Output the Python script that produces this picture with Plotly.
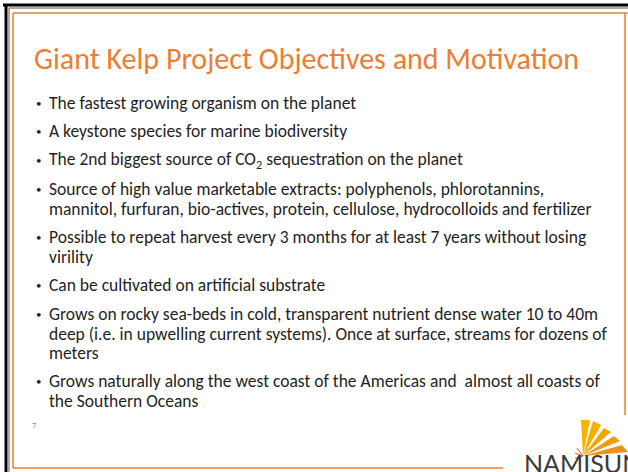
import plotly.graph_objects as go

W, H = 628, 472

title_text = "Giant Kelp Project Objectives and Motivation"

bullets = [
    ["The fastest growing organism on the planet"],
    ["A keystone species for marine biodiversity"],
    ["The 2nd biggest source of CO<sub>2</sub> sequestration on the planet"],
    ["Source of high value marketable extracts: polyphenols, phlorotannins,",
     "mannitol, furfuran, bio-actives, protein, cellulose, hydrocolloids and fertilizer"],
    ["Possible to repeat harvest every 3 months for at least 7 years without losing",
     "virility"],
    ["Can be cultivated on artificial substrate"],
    ["Grows on rocky sea-beds in cold, transparent nutrient dense water 10 to 40m",
     "deep (i.e. in upwelling current systems). Once at surface, streams for dozens of",
     "meters"],
    ["Grows naturally along the west coast of the Americas and  almost all coasts of",
     "the Southern Oceans"],
]
bullet_y = [103, 131, 160, 189, 237, 285, 314, 381]
line_gap = 19.6

page_number = "7"
logo_text = "NAMISUN"

ORANGE = "#ED7D31"
TEXT = "#1f1f1f"
FONT = "Carlito, Calibri, Lato, sans-serif"

fig = go.Figure()
fig.add_trace(go.Scatter(x=[0, W], y=[0, H], mode="markers", marker=dict(opacity=0), hoverinfo="skip", showlegend=False))

ann = []
ann.append(dict(x=32, y=58, text=title_text, xanchor="left", yanchor="middle", showarrow=False,
                font=dict(family=FONT, size=30, color=ORANGE)))
for lines, y0 in zip(bullets, bullet_y):
    ann.append(dict(x=34, y=y0, text="•", xanchor="left", yanchor="middle", showarrow=False,
                    font=dict(family=FONT, size=11, color=TEXT)))
    for i, ln in enumerate(lines):
        ann.append(dict(x=47, y=y0 + i * line_gap, text=ln, xanchor="left", yanchor="middle", showarrow=False,
                        font=dict(family=FONT, size=17.5, color=TEXT)))
ann.append(dict(x=30, y=424, text=page_number, xanchor="left", yanchor="middle", showarrow=False,
                font=dict(family=FONT, size=9, color="#8c8c8c")))
ann.append(dict(x=522, y=446, text=logo_text, xanchor="left", yanchor="top", showarrow=False,
                font=dict(family="Lato, sans-serif", size=25, color="#3a3a3a")))

shapes = []
# black frame
shapes.append(dict(type="line", x0=3, y0=5, x1=W, y1=5, line=dict(color="#000", width=3)))
shapes.append(dict(type="line", x0=6, y0=4, x1=6, y1=H, line=dict(color="#000", width=3)))
shapes.append(dict(type="line", x0=9, y0=8, x1=W, y1=8, line=dict(color="#555", width=1)))
shapes.append(dict(type="line", x0=9, y0=8, x1=9, y1=H, line=dict(color="#555", width=1)))
# orange border
shapes.append(dict(type="line", x0=13, y0=13, x1=W, y1=13, line=dict(color=ORANGE, width=1.5)))
shapes.append(dict(type="line", x0=13, y0=13, x1=13, y1=468, line=dict(color=ORANGE, width=1.5)))
shapes.append(dict(type="line", x0=13, y0=468, x1=503, y1=468, line=dict(color=ORANGE, width=1.5)))
shapes.append(dict(type="line", x0=625, y0=13, x1=625, y1=415, line=dict(color=ORANGE, width=1.5)))
# logo sun rays
apex = (583, 456)
rays = [((581, 420), (590, 420), "#F7B500"),
        ((593, 421), (601, 425), "#F6AE00"),
        ((604, 428), (611, 432), "#F4A500"),
        ((614, 436), (620, 441), "#F29A10"),
        ((622, 445), (628, 452), "#EF8F20")]
for p1, p2, c in rays:
    shapes.append(dict(type="path", path=f"M {apex[0]},{apex[1]} L {p1[0]},{p1[1]} L {p2[0]},{p2[1]} Z",
                       fillcolor=c, line=dict(width=0)))
for dx, dy in [(-6, -8), (-8, -3), (-8, 2)]:
    shapes.append(dict(type="line", x0=apex[0], y0=apex[1], x1=apex[0] + dx, y1=apex[1] + dy,
                       line=dict(color="#E8562A", width=1)))

fig.update_layout(
    width=W, height=H, margin=dict(l=0, r=0, t=0, b=0),
    paper_bgcolor="white", plot_bgcolor="white",
    xaxis=dict(range=[0, W], visible=False, fixedrange=True),
    yaxis=dict(range=[H, 0], visible=False, fixedrange=True),
    annotations=ann, shapes=shapes, showlegend=False,
)
fig.write_html("out.html", config={"displayModeBar": False},
               post_script="document.body.style.margin='0';document.body.style.overflow='hidden';")
